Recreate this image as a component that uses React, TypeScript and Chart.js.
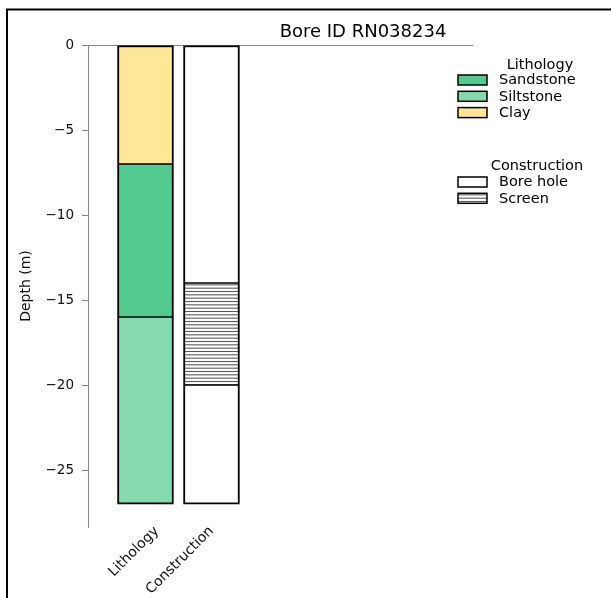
import React, { useEffect, useRef } from 'react';
import { Chart, registerables } from 'chart.js';

Chart.register(...registerables);

const chartTitle = 'Bore ID RN038234';
const categories = ['Lithology', 'Construction'];
const categoryPositions = [0, 1];
const categoryLabelPositions = [0.17, 1.0];

const lithologyNames = ['Clay', 'Sandstone', 'Siltstone'];
const lithologyTop = [0, -7, -16];
const lithologyBottom = [-7, -16, -27];
const lithologyColors = ['#ffe699', '#52c98e', '#86d9ae'];

const constructionNames = ['Bore hole', 'Screen', 'Bore hole'];
const constructionTop = [0, -14, -20];
const constructionBottom = [-14, -20, -27];

const yTicks = [0, -5, -10, -15, -20, -25];
const yMin = -28.35;
const yMax = 0;

const lithologyLegend = ['Sandstone', 'Siltstone', 'Clay'];
const constructionLegend = ['Bore hole', 'Screen'];

const FONT = '"DejaVu Sans", sans-serif';

function makeHatch(): CanvasPattern | string {
  const c = document.createElement('canvas');
  c.width = 8;
  c.height = 10;
  const g = c.getContext('2d');
  if (!g) return '#ffffff';
  g.fillStyle = '#ffffff';
  g.fillRect(0, 0, 8, 10);
  g.strokeStyle = '#5a5a5a';
  g.lineWidth = 1.1;
  [1.5, 4.83, 8.17].forEach((y) => {
    g.beginPath();
    g.moveTo(0, y);
    g.lineTo(8, y);
    g.stroke();
  });
  return g.createPattern(c, 'repeat') || '#ffffff';
}

export default function App() {
  const ref = useRef<HTMLCanvasElement | null>(null);

  useEffect(() => {
    document.documentElement.style.overflow = 'hidden';
    document.body.style.margin = '0';
    document.body.style.overflow = 'hidden';
    const canvas = ref.current;
    if (!canvas) return;
    const hatch = makeHatch();

    const fills: Record<string, any> = {};
    lithologyNames.forEach((n, i) => (fills[n] = lithologyColors[i]));
    fills['Bore hole'] = '#ffffff';
    fills['Screen'] = hatch;

    const datasets: any[] = [];
    const edge = (i: number, n: number) => ({
      left: 2,
      right: 2,
      top: i === 0 ? 2 : 1,
      bottom: i === n - 1 ? 2 : 1,
    });
    lithologyNames.forEach((n, i) => {
      datasets.push({
        label: n,
        data: [{ x: categoryPositions[0], y: [lithologyTop[i], lithologyBottom[i]] }],
        backgroundColor: lithologyColors[i],
        borderWidth: edge(i, lithologyNames.length),
      });
    });
    constructionNames.forEach((n, i) => {
      datasets.push({
        label: n,
        data: [{ x: categoryPositions[1], y: [constructionTop[i], constructionBottom[i]] }],
        backgroundColor: fills[n],
        borderWidth: edge(i, constructionNames.length),
      });
    });
    datasets.forEach((d) => {
      d.borderColor = '#000000';
      d.borderSkipped = false;
      d.grouped = false;
      d.barThickness = 56;
    });

    const framePlugin = {
      id: 'frame',
      afterDraw(chart: any) {
        const ctx = chart.ctx;
        ctx.save();
        ctx.strokeStyle = '#000000';
        ctx.lineWidth = 2;
        ctx.strokeRect(7, 9.5, 800, 800);
        ctx.fillStyle = '#000000';
        ctx.font = `18px ${FONT}`;
        ctx.textAlign = 'center';
        ctx.textBaseline = 'middle';
        ctx.fillText(chartTitle, 363, 32);
        ctx.restore();
      },
    };

    const legendPlugin = {
      id: 'twoLegends',
      afterDraw(chart: any) {
        const ctx = chart.ctx;
        ctx.save();
        const groups = [
          { title: 'Lithology', items: lithologyLegend, tx: 540, ty: 65, y0: 80 },
          { title: 'Construction', items: constructionLegend, tx: 537, ty: 166, y0: 182 },
        ];
        groups.forEach((g) => {
          ctx.font = `14.5px ${FONT}`;
          ctx.fillStyle = '#000000';
          ctx.textAlign = 'center';
          ctx.textBaseline = 'middle';
          ctx.fillText(g.title, g.tx, g.ty);
          g.items.forEach((name, i) => {
            const cy = g.y0 + i * 16.3;
            ctx.fillStyle = fills[name];
            ctx.fillRect(458, cy - 5, 29, 10);
            ctx.strokeStyle = '#000000';
            ctx.lineWidth = 1.5;
            ctx.strokeRect(458, cy - 5, 29, 10);
            ctx.fillStyle = '#000000';
            ctx.textAlign = 'left';
            ctx.fillText(name, 499, cy + 0.5);
          });
        });
        ctx.restore();
      },
    };

    const chart = new Chart(canvas, {
      type: 'bar',
      data: { datasets },
      plugins: [framePlugin, legendPlugin],
      options: {
        animation: false,
        responsive: false,
        devicePixelRatio: 1,
        layout: { padding: { left: 10, right: 138, top: 45, bottom: 0 } },
        plugins: {
          legend: { display: false },
          title: { display: false },
          tooltip: { enabled: false },
        },
        scales: {
          x: {
            type: 'linear',
            offset: false,
            min: -0.871,
            max: 4.962,
            afterFit: (s: any) => {
              s.height = 71;
            },
            afterBuildTicks: (s: any) => {
              s.ticks = categoryLabelPositions.map((v) => ({ value: v }));
            },
            border: { display: false },
            grid: { display: false, drawTicks: false, offset: false },
            ticks: {
              maxRotation: 45,
              minRotation: 45,
              autoSkip: false,
              padding: -4,
              color: '#111111',
              font: { family: FONT, size: 14 },
              callback: (v: any) => {
                const i = categoryLabelPositions.indexOf(v);
                return i >= 0 ? categories[i] : '';
              },
            },
          },
          y: {
            type: 'linear',
            min: yMin,
            max: yMax,
            afterFit: (s: any) => {
              s.width = 78;
            },
            afterBuildTicks: (s: any) => {
              s.ticks = yTicks.map((v) => ({ value: v }));
            },
            border: { display: true, color: '#8c8282', width: 1 },
            grid: {
              color: (c: any) => (c.tick && c.tick.value === 0 ? '#888888' : 'rgba(0,0,0,0)'),
              tickColor: '#8c8282',
              tickLength: 6,
              lineWidth: 1,
            },
            ticks: {
              padding: 8,
              color: '#111111',
              font: { family: FONT, size: 13.5 },
              callback: (v: any) => (v < 0 ? '\u2212' + String(Math.abs(v)) : String(v)),
            },
            title: {
              display: true,
              text: 'Depth (m)',
              color: '#111111',
              font: { family: FONT, size: 14 },
              padding: { top: 8, bottom: 0 },
            },
          },
        },
      },
    });
    return () => chart.destroy();
  }, []);

  return (
    <div style={{ width: 611, height: 598, position: 'relative', background: '#ffffff' }}>
      <canvas ref={ref} width={611} height={598} style={{ width: 611, height: 598, display: 'block' }} />
    </div>
  );
}
